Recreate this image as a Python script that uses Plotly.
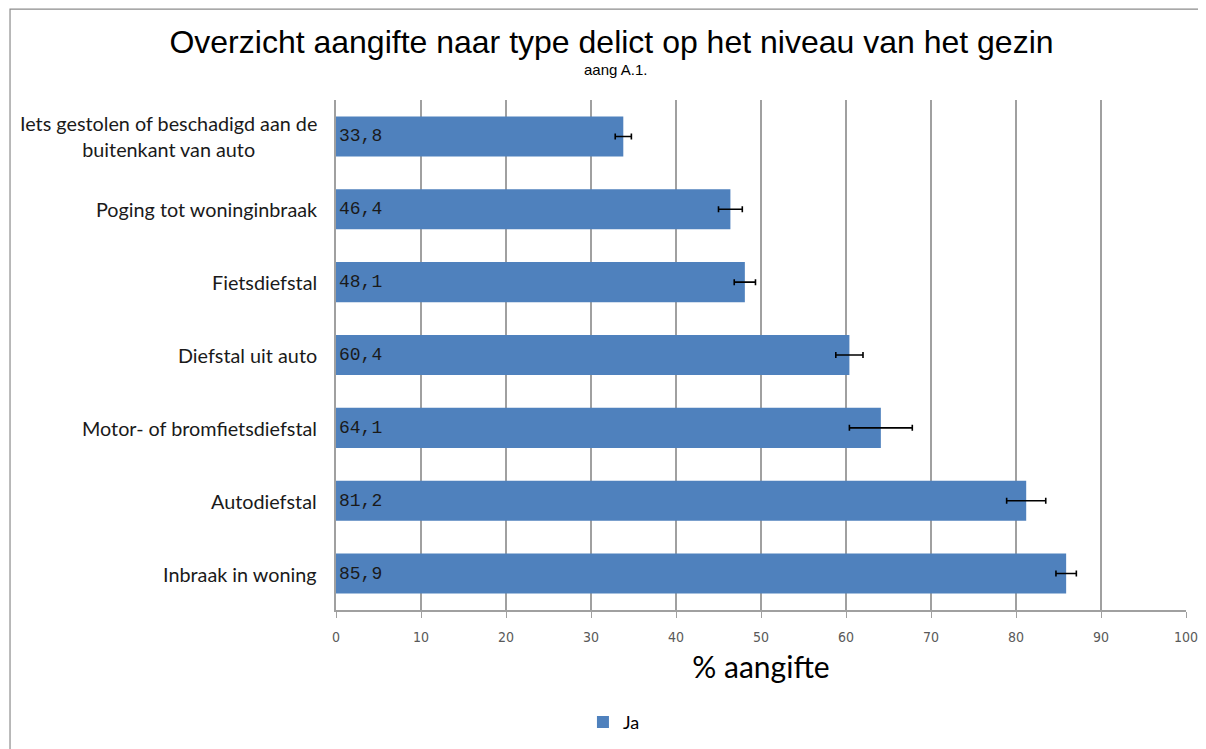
import plotly.graph_objects as go

# data
categories = [
    "Iets gestolen of beschadigd aan de<br>buitenkant van auto",
    "Poging tot woninginbraak",
    "Fietsdiefstal",
    "Diefstal uit auto",
    "Motor- of bromfietsdiefstal",
    "Autodiefstal",
    "Inbraak in woning",
]
ja_values = [33.8, 46.4, 48.1, 60.4, 64.1, 81.2, 85.9]
ja_errors = [0.95, 1.4, 1.25, 1.6, 3.7, 2.3, 1.2]
x_ticks = [0, 10, 20, 30, 40, 50, 60, 70, 80, 90, 100]

labels = [f"{v:.1f}".replace(".", ",") for v in ja_values]

fig = go.Figure()
fig.add_trace(go.Bar(
    name="Ja",
    y=categories,
    x=ja_values,
    orientation="h",
    width=0.55,
    marker=dict(color="#4F81BD", line=dict(color="#4F81BD", width=0)),
    text=labels,
    textposition="inside",
    insidetextanchor="start",
    textfont=dict(family="Liberation Mono", size=18, color="#1a1a1a"),
    error_x=dict(type="data", array=ja_errors, color="black", thickness=1.6, width=3),
))

# category labels as annotations so the two-line label is centred
for cat in categories:
    fig.add_annotation(
        x=0, xref="paper", xanchor="right", xshift=-17,
        y=cat, yref="y", yanchor="middle",
        text=cat, showarrow=False, align="center",
        font=dict(family="Lato", size=19.8, color="#1a1a1a"),
    )

# subtitle
fig.add_annotation(
    x=0.329, xref="paper", xanchor="center",
    y=1.059, yref="paper", yanchor="middle",
    text="aang A.1.", showarrow=False,
    font=dict(family="Liberation Sans", size=15, color="black"),
)

# outer chart frame
fig.add_shape(type="rect", xref="paper", yref="paper",
              x0=-0.3835, x1=1.018, y0=-0.35, y1=1.178,
              line=dict(color="#8c8c8c", width=1.2), layer="below")

fig.update_layout(
    width=1206, height=749,
    margin=dict(l=328, r=28, t=92, b=147),
    paper_bgcolor="white",
    plot_bgcolor="white",
    title=dict(
        text="Overzicht aangifte naar type delict op het niveau van het gezin",
        x=0.5004, xanchor="center", y=0.955, yanchor="middle",
        font=dict(family="Liberation Sans", size=32, color="black"),
    ),
    xaxis=dict(
        range=[0, 100],
        tickvals=x_ticks,
        automargin=False,
        showgrid=True, gridcolor="#a0a0a0", gridwidth=1.5,
        showline=True, linecolor="#a0a0a0", linewidth=1.5,
        ticks="outside", ticklen=6, tickcolor="#a0a0a0",
        ticklabelstandoff=7,
        tickfont=dict(family="DejaVu Sans Condensed, Liberation Sans Narrow", size=14, color="#595959"),
        title=dict(text="% aangifte", standoff=13,
                   font=dict(family="Lato", size=30, color="black")),
        zeroline=False,
    ),
    yaxis=dict(
        autorange="reversed",
        automargin=False,
        showticklabels=False,
        showline=True, linecolor="#a0a0a0", linewidth=1.5,
        showgrid=False,
    ),
    showlegend=True,
    legend=dict(
        orientation="h", x=0.327, xanchor="center", y=-0.22, yanchor="middle",
        font=dict(family="Lato", size=18, color="black"),
        itemwidth=30,
    ),
)

fig.write_html("out.html")
